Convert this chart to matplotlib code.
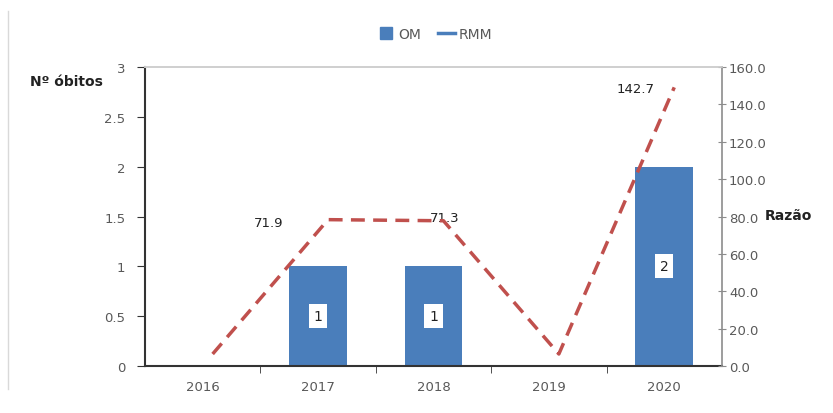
import matplotlib.pyplot as plt
import matplotlib.transforms as mtransforms
from matplotlib.lines import Line2D
from matplotlib.ticker import FuncFormatter, FixedLocator

years = ["2016", "2017", "2018", "2019", "2020"]
om = [0, 1, 1, 0, 2]
rmm = [0, 71.9, 71.3, 0, 142.7]
rmm_labels = ["", "71.9", "71.3", "", "142.7"]

blue = "#4A7EBB"
red = "#C0504D"
grey = "#595959"

fig = plt.figure(figsize=(8.33, 4.14), dpi=100)
ax = fig.add_axes([0.174, 0.1135, 0.6927, 0.7222])
ax2 = ax.twinx()

x = list(range(len(years)))
ax.bar(x, om, width=0.5, color=blue, zorder=2)
for xi, v in zip(x, om):
    if v > 0:
        ax.text(xi, v / 2, str(v), ha="center", va="center", fontsize=10, color="#222222",
                bbox=dict(boxstyle="square,pad=0.35", fc="white", ec="none"), zorder=3)

# the line in the original sits a bit up/right of the category centres
shift = mtransforms.offset_copy(ax2.transData, fig=fig, x=10, y=12, units="dots")
ax2.plot(x, rmm, color=red, lw=2.5, dashes=(4, 2.4), transform=shift, zorder=4)

ax2.text(1 - 0.3, 71.9 + 5, rmm_labels[1], ha="right", va="center", fontsize=9.5, color="#222222")
ax2.text(2 + 0.1, 71.3 + 8, rmm_labels[2], ha="center", va="center", fontsize=9.5, color="#222222")
ax2.text(4 - 0.08, 142.7 + 6, rmm_labels[4], ha="right", va="center", fontsize=9.5, color="#222222")

ax.set_xlim(-0.5, 4.5)
ax.set_ylim(0, 3)
ax2.set_ylim(0, 160)

ax.set_xticks(x)
ax.set_xticklabels(years)
ax.xaxis.set_minor_locator(FixedLocator([0.5, 1.5, 2.5, 3.5]))
ax.tick_params(axis="x", which="major", length=0, pad=10, labelsize=9.5, labelcolor=grey)
ax.tick_params(axis="x", which="minor", length=5, direction="out", color="#333333")

ax.set_yticks([0, 0.5, 1, 1.5, 2, 2.5, 3])
ax.yaxis.set_major_formatter(FuncFormatter(lambda v, p: f"{v:g}"))
ax.tick_params(axis="y", length=6, direction="out", color="#333333", labelsize=9.5,
               labelcolor=grey, pad=8)

ax2.set_yticks(range(0, 161, 20))
ax2.yaxis.set_major_formatter(FuncFormatter(lambda v, p: f"{v:.1f}"))
ax2.tick_params(axis="y", length=6, direction="inout", color="#8c8c8c", labelsize=9.5,
                labelcolor=grey, pad=2)

for a in (ax, ax2):
    a.spines["top"].set_color("#cfcfcf")
    a.spines["top"].set_linewidth(1.2)
ax.spines["left"].set_color("#333333")
ax.spines["left"].set_linewidth(1.5)
ax.spines["bottom"].set_color("#333333")
ax.spines["bottom"].set_linewidth(1.5)
ax.spines["right"].set_visible(False)
ax2.spines["left"].set_visible(False)
ax2.spines["bottom"].set_visible(False)
ax2.spines["right"].set_color("#8c8c8c")
ax2.spines["right"].set_linewidth(1.2)

fig.text(30 / 833, 1 - 82 / 414, "Nº óbitos", fontsize=10, fontweight="bold",
         color="#222222", ha="left", va="center")
fig.text(765 / 833, 1 - 216 / 414, "Razão", fontsize=10, fontweight="bold",
         color="#222222", ha="left", va="center")

handles = [Line2D([], [], marker="s", ls="none", color=blue, markersize=9),
           Line2D([], [], color=blue, lw=2.5)]
fig.legend(handles, ["OM", "RMM"], loc="center", bbox_to_anchor=(435 / 833, 1 - 35 / 414),
           ncol=2, frameon=False, fontsize=10, handlelength=1.2, handletextpad=0.3,
           columnspacing=1.2, labelcolor=grey)

# thin screenshot border on the left
fig.add_artist(Line2D([8 / 833, 8 / 833], [1 - 390 / 414, 1 - 12 / 414],
                      transform=fig.transFigure, color="#d9d9d9", lw=1))

fig.savefig("out.png", dpi=100)
